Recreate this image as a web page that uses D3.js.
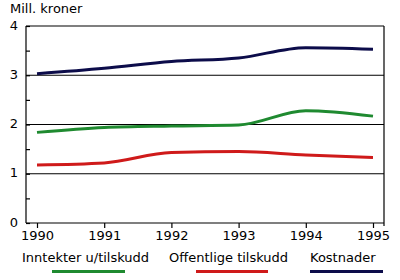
<!DOCTYPE html>
<html>
<head>
<meta charset="utf-8">
<script src="https://cdn.jsdelivr.net/npm/d3@7"></script>
<style>
  body { margin: 0; background: #fff; }
  svg { font-family: "DejaVu Sans", sans-serif; font-size: 13px; }
  .grid line { stroke: #000; stroke-width: 1.2; }
</style>
</head>
<body>
<div id="chart"></div>
<script>
const years = [1990, 1991, 1992, 1993, 1994, 1995];
const inntekter = [1.84, 1.94, 1.97, 1.99, 2.28, 2.17];
const offentlige = [1.18, 1.22, 1.43, 1.45, 1.38, 1.33];
const kostnader = [3.03, 3.14, 3.28, 3.35, 3.56, 3.53];
const seriesNames = ["Inntekter u/tilskudd", "Offentlige tilskudd", "Kostnader"];
const yTicks = [0, 1, 2, 3, 4];

const colors = ["#1f8a30", "#cf1a1a", "#0c0c4a"];
const series = [inntekter, offentlige, kostnader];

const W = 400, H = 280;
const plotL = 26, plotR = 384, plotT = 26, plotB = 223;

const svg = d3.select("#chart").append("svg").attr("width", W).attr("height", H);

const x = d3.scaleLinear().domain([1990, 1995]).range([37, 373]);
const y = d3.scaleLinear().domain([0, 4]).range([plotB, plotT]);

// gridlines + frame
const g = svg.append("g").attr("class", "grid");
g.selectAll("line.h").data([1, 2, 3, 4]).enter().append("line")
  .attr("x1", plotL).attr("x2", plotR)
  .attr("y1", d => y(d)).attr("y2", d => y(d));
g.append("line").attr("x1", plotR).attr("x2", plotR).attr("y1", plotT).attr("y2", plotB + 3);

// y axis
const yAxis = d3.axisLeft(y).tickValues(d3.range(0, 4.01, 0.5)).tickSize(-4).tickFormat("");
const ya = svg.append("g").attr("transform", `translate(${plotL},0)`).call(yAxis);
ya.select(".domain").remove();
ya.selectAll("line").attr("stroke", "#000").attr("stroke-width", 1.2);
svg.append("line").attr("x1", plotL).attr("x2", plotL).attr("y1", plotT).attr("y2", plotB)
  .attr("stroke", "#000").attr("stroke-width", 1.2);
svg.selectAll("text.ylab").data(yTicks).enter().append("text")
  .attr("class", "ylab")
  .attr("x", 18).attr("y", d => y(d)).attr("dy", "0.28em")
  .attr("text-anchor", "end").text(d => d);

// x axis
const xa = svg.append("g").attr("transform", `translate(0,${plotB})`)
  .call(d3.axisBottom(x).tickValues(years).tickFormat(d3.format("d")).tickSize(5).tickPadding(3));
xa.select(".domain").remove();
xa.selectAll("line").attr("stroke", "#000").attr("stroke-width", 1.2);
xa.selectAll("text").attr("font-size", 13).attr("fill", "#000").attr("font-family", "DejaVu Sans, sans-serif");
svg.append("line").attr("x1", plotL).attr("x2", plotR).attr("y1", plotB).attr("y2", plotB)
  .attr("stroke", "#000").attr("stroke-width", 1.2);

svg.append("text").attr("x", 10).attr("y", 13).text("Mill. kroner");

// lines
const line = d3.line().x((d, i) => x(years[i])).y(d => y(d)).curve(d3.curveMonotoneX);
series.forEach((s, i) => {
  svg.append("path").datum(s)
    .attr("fill", "none").attr("stroke", colors[i]).attr("stroke-width", 3)
    .attr("d", line);
});

// legend
const legText = [22, 169, 310];
const legLine = [[52, 125], [196, 268], [310, 383]];
seriesNames.forEach((n, i) => {
  svg.append("text").attr("x", legText[i]).attr("y", 262).text(n);
  svg.append("line")
    .attr("x1", legLine[i][0]).attr("x2", legLine[i][1])
    .attr("y1", 271.5).attr("y2", 271.5)
    .attr("stroke", colors[i]).attr("stroke-width", 3);
});
</script>
</body>
</html>
